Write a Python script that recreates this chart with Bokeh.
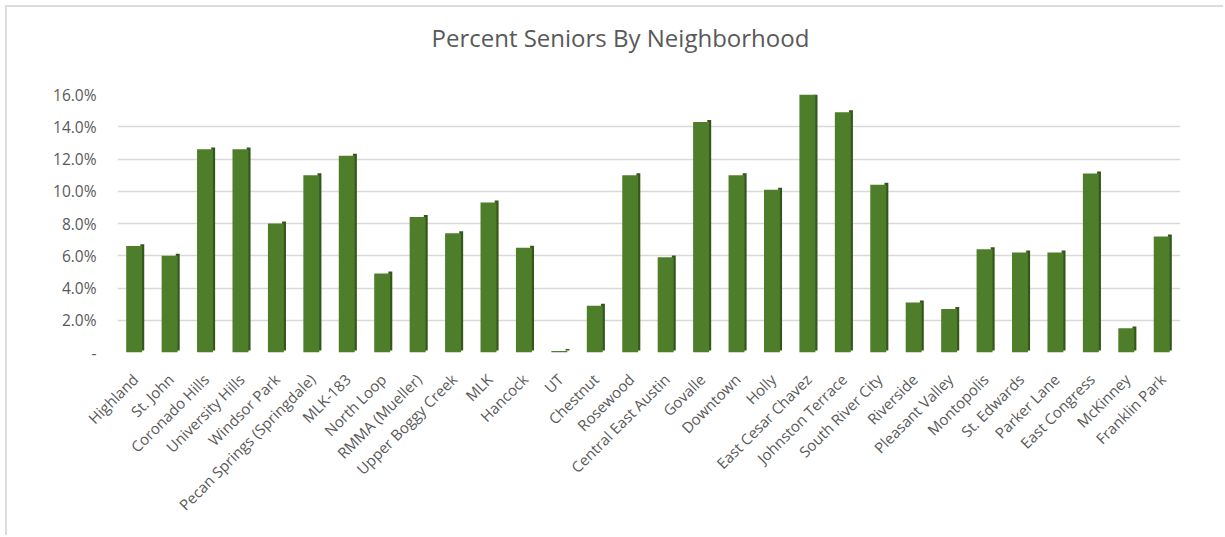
from bokeh.plotting import figure
from bokeh.models import ColumnDataSource, FixedTicker, NumeralTickFormatter
from bokeh.transform import dodge
from bokeh.embed import file_html
from bokeh.resources import INLINE
from math import pi

chart_title = "Percent Seniors By Neighborhood"
neighborhoods = ["Highland", "St. John", "Coronado Hills", "University Hills", "Windsor Park",
                 "Pecan Springs (Springdale)", "MLK-183", "North Loop", "RMMA (Mueller)",
                 "Upper Boggy Creek", "MLK", "Hancock", "UT", "Chestnut", "Rosewood",
                 "Central East Austin", "Govalle", "Downtown", "Holly", "East Cesar Chavez",
                 "Johnston Terrace", "South River City", "Riverside", "Pleasant Valley",
                 "Montopolis", "St. Edwards", "Parker Lane", "East Congress", "McKinney",
                 "Franklin Park"]
pct_seniors = [0.066, 0.060, 0.126, 0.126, 0.080,
               0.110, 0.122, 0.049, 0.084,
               0.074, 0.093, 0.065, 0.001, 0.029, 0.110,
               0.059, 0.143, 0.110, 0.101, 0.160,
               0.149, 0.104, 0.031, 0.027,
               0.064, 0.062, 0.062, 0.111, 0.015,
               0.072]
y_ticks = [0.0, 0.02, 0.04, 0.06, 0.08, 0.10, 0.12, 0.14, 0.16]

src = ColumnDataSource(data=dict(cat=neighborhoods, val=pct_seniors))

p = figure(x_range=neighborhoods, y_range=(0, 0.16), width=1218, height=530,
           output_backend="svg", toolbar_location=None,
           min_border_left=110, min_border_right=45, min_border_top=87, min_border_bottom=185)
p.styles = {"margin-left": "5px", "margin-top": "5px",
            "border-left": "2px solid #dcdcdc", "border-top": "2px solid #dcdcdc"}

# side face (3D effect)
p.vbar(x=dodge("cat", 0.2, range=p.x_range), top=dodge("val", 0.0012), bottom=0.0012,
       width=0.11, source=src, fill_color="#34561b", line_color=None)
# front face
p.vbar(x=dodge("cat", -0.03, range=p.x_range), top="val", width=0.45, source=src,
       fill_color="#4f7e2b", line_color=None)

p.title.text = chart_title + "\n "
p.title.align = "left"
p.title.offset = 314
p.title.text_font = "Open Sans"
p.title.text_font_size = "24px"
p.title.text_line_height = 0.9
p.title.text_font_style = "normal"
p.title.text_color = "#595959"
p.title.standoff = 22

p.outline_line_color = None
p.background_fill_color = "white"
p.border_fill_color = "white"

p.xgrid.grid_line_color = None
p.ygrid.grid_line_color = "#d9d9d9"
p.ygrid.grid_line_width = 1.5
p.yaxis.ticker = FixedTicker(ticks=y_ticks)
p.yaxis.formatter = NumeralTickFormatter(format="0.0%")
p.yaxis.major_label_overrides = {0: "-"}

for ax in (p.xaxis, p.yaxis):
    ax.axis_line_color = None
    ax.major_tick_line_color = None
    ax.minor_tick_line_color = None
    ax.major_label_text_font = "Open Sans"
    ax.major_label_text_color = "#595959"

p.yaxis.major_label_text_font_size = "15.5px"
p.yaxis.major_label_standoff = 15
p.xaxis.major_label_text_font_size = "15px"
p.xaxis.major_label_orientation = pi / 4
p.xaxis.major_label_standoff = 18
p.x_range.range_padding = 0

open("out.html", "w").write(file_html(p, INLINE))
